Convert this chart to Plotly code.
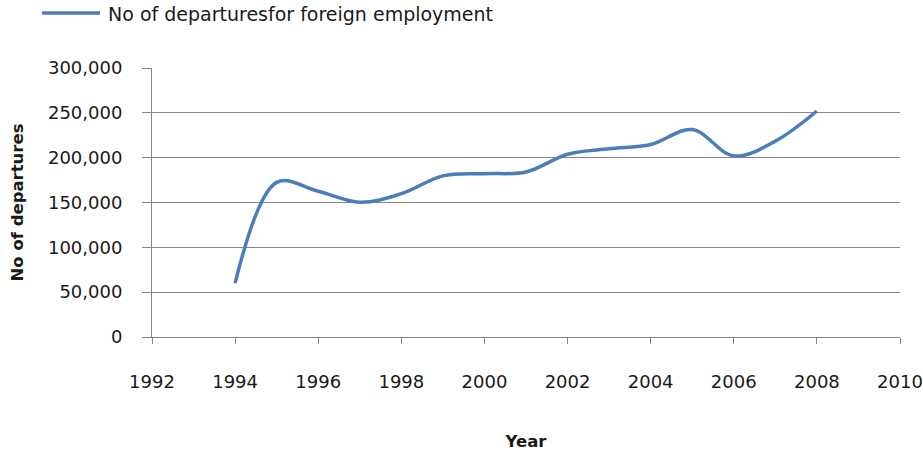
import plotly.graph_objects as go

# Departures for foreign employment, by year
years = [1994, 1995, 1996, 1997, 1998, 1999, 2000, 2001, 2002, 2003, 2004, 2005, 2006, 2007, 2008]
departures = [60056, 172489, 162576, 150283, 159816, 179735, 182188, 184007,
              203773, 209846, 214709, 231290, 201948, 218459, 252021]

series_name = "No of departuresfor foreign employment"
x_ticks = list(range(1992, 2011, 2))
y_ticks = list(range(0, 300001, 50000))

FONT = "DejaVu Sans, sans-serif"
TEXT_COLOR = "#1a1a1a"
LINE_COLOR = "#4A7EBB"
GRID_COLOR = "#868686"

# plot area in pixels (used to place the legend key in paper coordinates)
L, R, T, B, W, H = 152, 23, 68, 118, 923, 455
PW, PH = W - L - R, H - T - B


def px_x(px):
    return (px - L) / PW


def px_y(py):
    return (H - B - py) / PH


fig = go.Figure()
fig.add_trace(go.Scatter(
    x=years, y=departures, mode="lines", name=series_name, showlegend=False,
    line=dict(color=LINE_COLOR, width=3.5, shape="spline", smoothing=1.0),
))

# legend key: sample line plus series label
fig.add_shape(type="line", xref="paper", yref="paper",
              x0=px_x(42), x1=px_x(100), y0=px_y(13), y1=px_y(13),
              line=dict(color=LINE_COLOR, width=3.5))
fig.add_annotation(xref="paper", yref="paper", x=px_x(106), y=px_y(14),
                   xanchor="left", yanchor="middle", showarrow=False,
                   text=series_name, font=dict(family=FONT, size=19, color=TEXT_COLOR))

fig.update_layout(
    width=W, height=H,
    margin=dict(l=L, r=R, t=T, b=B, autoexpand=False),
    paper_bgcolor="white", plot_bgcolor="white",
    font=dict(family=FONT, size=18, color=TEXT_COLOR),
    showlegend=False,
    xaxis=dict(
        range=[1992, 2010], tickmode="array", tickvals=x_ticks,
        ticktext=[str(v) for v in x_ticks],
        showgrid=False, zeroline=False,
        showline=True, linecolor=GRID_COLOR, linewidth=1,
        ticks="outside", ticklen=6, tickcolor=GRID_COLOR,
        ticklabelstandoff=22,
        tickfont=dict(family=FONT, size=18, color=TEXT_COLOR),
        title=dict(text="<b>Year</b>", font=dict(family=FONT, size=16.5, color=TEXT_COLOR), standoff=44),
    ),
    yaxis=dict(
        range=[0, 300000], tickmode="array", tickvals=y_ticks,
        ticktext=[f"{v:,}" for v in y_ticks],
        showgrid=True, gridcolor=GRID_COLOR, gridwidth=1, zeroline=False,
        showline=True, linecolor=GRID_COLOR, linewidth=1,
        ticks="outside", ticklen=9, tickcolor=GRID_COLOR,
        ticklabelstandoff=16,
        tickfont=dict(family=FONT, size=18, color=TEXT_COLOR),
        title=dict(text="<b>No of departures</b>", font=dict(family=FONT, size=16.5, color=TEXT_COLOR), standoff=20),
    ),
)

fig.write_html("out.html")
